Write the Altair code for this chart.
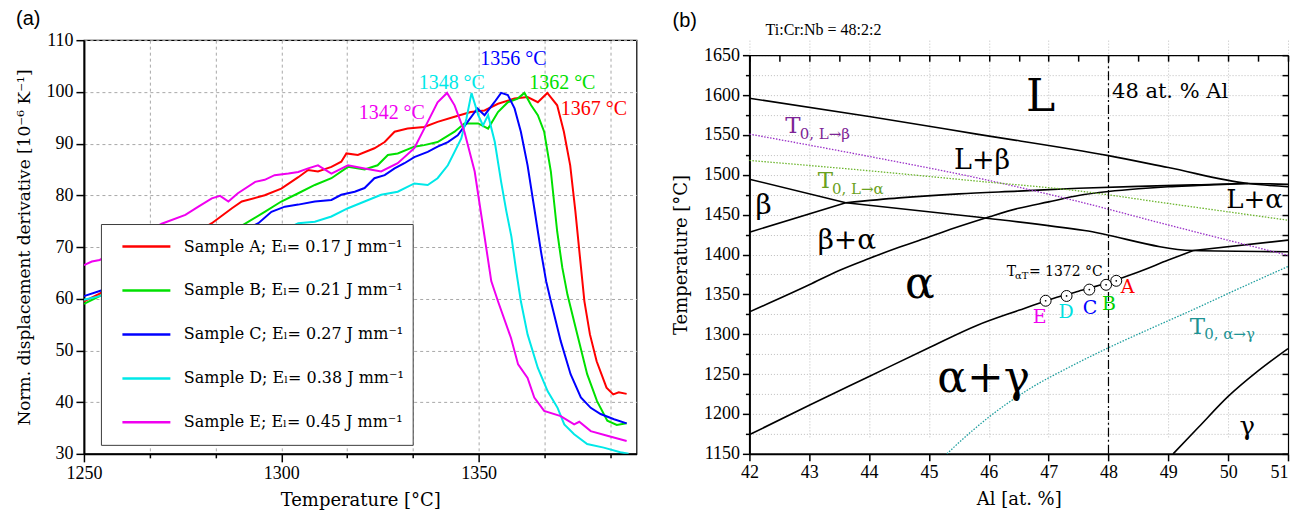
import altair as alt
import pandas as pd

# ---------------- panel (a): normalised displacement derivative ----------------
samples = [
    "Sample A; E\u2097= 0.17 J mm\u207b\u00b9",
    "Sample B; E\u2097= 0.21 J mm\u207b\u00b9",
    "Sample C; E\u2097= 0.27 J mm\u207b\u00b9",
    "Sample D; E\u2097= 0.38 J mm\u207b\u00b9",
    "Sample E; E\u2097= 0.45 J mm\u207b\u00b9",
]
sample_colors = ["#ff0000", "#00e000", "#0000ff", "#00e8e8", "#f000f0"]

temp_A = [1250, 1254, 1260, 1270, 1280, 1282.4, 1287.5, 1290, 1295.8, 1300, 1304.3, 1306.8, 1309.3,
          1312.7, 1315.2, 1316.5, 1319.4, 1323.6, 1326.2, 1328.7, 1332, 1336.2, 1339.6, 1343.9, 1348,
          1351.5, 1354.9, 1359.1, 1362.4, 1365, 1367.4, 1369.9, 1371.6, 1373.2, 1374.5, 1375.7, 1376.8,
          1378.2, 1379.9, 1382.4, 1384.1, 1385.5, 1387.5]
val_A = [59.5, 61, 64, 69, 73.5, 74.6, 77.5, 78.8, 80, 81.3, 83.5, 84.9, 84.6,
         85.5, 86.5, 88.1, 87.8, 89.1, 90.3, 92.3, 92.9, 93.2, 94.2, 95.2, 96.1,
         96.4, 97.7, 98.7, 99.0, 98.0, 99.8, 97.4, 92.3, 85.8, 77, 67.8, 59.5,
         53.1, 47.9, 42.8, 41.5, 41.9, 41.6]

temp_B = [1250, 1254, 1260, 1270, 1280, 1287.5, 1291.7, 1295.8, 1300, 1304.3, 1308.5, 1312.7, 1316.9,
          1321.1, 1324.4, 1327, 1329.5, 1333.7, 1336.2, 1339.6, 1343.9, 1346.4, 1349.9, 1352.4, 1354.9,
          1357.4, 1359.9, 1361.6, 1363.3, 1365, 1366.6, 1368.3, 1369.9, 1371.2, 1372.5, 1375, 1377.5,
          1380, 1382.6, 1385, 1387.5]
val_B = [59.0, 60.5, 63, 67, 70.5, 73.0, 74.9, 76.8, 78.8, 80.4, 82.0, 83.3, 85.5,
         85.0, 85.8, 87.8, 88.1, 89.4, 89.7, 90.3, 92.3, 93.9, 93.9, 92.9, 96.1,
         98.0, 98.7, 99.8, 97.4, 95.5, 92.3, 84.6, 73.0, 66, 60.8, 53.1, 45.4,
         40.2, 36.4, 35.6, 35.9]

temp_C = [1250, 1254, 1260, 1270, 1280, 1290, 1294.2, 1297.5, 1300.9, 1304.3, 1308.5, 1312.7, 1315.2,
          1318.6, 1321.1, 1323.6, 1326.2, 1328.7, 1331.2, 1333.7, 1337.1, 1339.6, 1342.2, 1344.7, 1347.2,
          1349.7, 1351.5, 1354, 1355.7, 1357.4, 1359.1, 1360.7, 1362.4, 1364.1, 1365.8, 1367.1, 1368.3,
          1370.8, 1373.3, 1375.9, 1378.4, 1380.9, 1384.3, 1387.5]
val_C = [60.5, 61.5, 63, 66, 69.5, 73, 74.6, 76.8, 77.8, 78.2, 78.8, 79.1, 80.1,
         80.7, 81.4, 83.3, 83.9, 85.2, 86.2, 87.4, 88.4, 89.4, 90.3, 91.6, 94.2,
         96.8, 95.5, 98.0, 99.8, 99.4, 96.8, 92.3, 85.8, 77.5, 69.1, 63.4, 59.5,
         51.8, 45.4, 40.9, 38.9, 37.7, 36.7, 35.9]

temp_D = [1250, 1254, 1260, 1270, 1280, 1290, 1300, 1304.3, 1308.5, 1312.7, 1316.9, 1321.1, 1325.3,
          1329.5, 1333.7, 1337.1, 1339.6, 1342.2, 1343.9, 1345.6, 1346.9, 1348.2, 1349.9, 1351.1,
          1352.4, 1354.1, 1355.7, 1357, 1358.3, 1359.5, 1360.7, 1362.4, 1365, 1367.5, 1370, 1371.7,
          1374.2, 1377.5, 1381.7, 1385.9, 1388]
val_D = [59.8, 60.5, 62, 64.5, 67, 70, 73, 74.6, 74.9, 75.9, 77.5, 78.8, 80.1,
         80.7, 82.3, 82.0, 83.3, 85.8, 88.4, 91.0, 94.8, 99.8, 95.5, 93.5,
         95.5, 90.3, 82.6, 77, 72, 65.5, 59.5, 53.1, 46.6, 42.1, 38.9, 35.7,
         33.8, 31.9, 31.2, 30.3, 30.0]

temp_E = [1250, 1252, 1254, 1260, 1265, 1269.7, 1275.7, 1279, 1282.4, 1284.5, 1286.6, 1289, 1293.4,
          1295.8, 1298.3, 1301.8, 1304.3, 1306.8, 1309.3, 1312.7, 1316.9, 1321.1, 1325.3, 1329.5,
          1333.7, 1337.1, 1339.6, 1342, 1343.9, 1346.4, 1349, 1351.5, 1353.2, 1354.9, 1358.2, 1360,
          1362.4, 1364.1, 1366.6, 1370.8, 1374.2, 1375.5, 1378.4, 1382.6, 1387.5]
val_E = [66.5, 67.2, 67.5, 70, 72.5, 74.5, 76.2, 77.8, 79.4, 79.9, 78.8, 80.4, 82.6,
         83, 83.9, 84.2, 84.5, 85.2, 85.8, 84.2, 85.8, 85.2, 84.6, 86.2,
         89.1, 94.2, 98.0, 99.8, 97.4, 92.3, 84.6, 72, 63.4, 59.5, 52.4, 47.3,
         44.7, 40.9, 38.3, 37.3, 35.7, 36.2, 34.4, 33.5, 32.5]

peak_text = ["1356 \u00b0C", "1348 \u00b0C", "1362 \u00b0C", "1342 \u00b0C", "1367 \u00b0C"]
peak_temp = [1358.8, 1343.2, 1371.2, 1328.0, 1379.2]
peak_val = [105.2, 100.6, 100.6, 94.8, 95.5]
peak_color = ["#0000ff", "#00e8e8", "#00e000", "#f000f0", "#ff0000"]

xa_ticks = [round(1250 + k * 25 / 6, 3) for k in range(34)]
ya_ticks = list(range(30, 111, 5))

# ---------------- panel (b): phase diagram ----------------
bound_names = ["liquidus", "beta_top", "beta_bottom", "lbeta_low", "ba_top", "a_ba", "a_transus",
               "la_low", "gamma"]
bound_x = [
    [42, 44, 45.8, 48, 49, 50.33, 51],
    [42, 43.61],
    [42, 43.61],
    [43.61, 44.5, 45.5, 46.5, 47.5, 48.5, 49.5, 50.33, 51],
    [43.61, 45.8, 47.6, 49.42, 51],
    [42, 43, 43.5, 44, 44.5, 45, 45.5, 46, 46.5, 47, 47.5, 48, 48.5, 49, 49.5, 50.33],
    [42, 43, 44, 45, 45.8, 46.5, 47, 47.5, 48, 48.5, 49, 49.42],
    [49.42, 51],
    [49.08, 49.5, 50, 50.5, 51],
]
bound_T = [
    [1596, 1573, 1551, 1524, 1509, 1489, 1485],
    [1494.5, 1465],
    [1428, 1465],
    [1465, 1471, 1476, 1479.5, 1483, 1485.5, 1487.5, 1489, 1488],
    [1465, 1447, 1430, 1405, 1403.5],
    [1328, 1362, 1380, 1395, 1409, 1422, 1435, 1447, 1458, 1466, 1474, 1479, 1482.5, 1485, 1486.5, 1489],
    [1174, 1211, 1247, 1283, 1311, 1330, 1343, 1354, 1365, 1378, 1393, 1405],
    [1405, 1418],
    [1150, 1183, 1222, 1254, 1282],
]

t0_names = ["T0 L-beta", "T0 L-alpha", "T0 alpha-gamma"]
t0_colors = ["#9a30c8", "#6cb52d", "#1e9e9e"]
t0_x = [
    [42, 44, 45.81, 47.47, 49, 51],
    [42, 44, 45.81, 47.47, 49, 51],
    [45.3, 45.47, 46, 46.69, 47.3, 47.97, 48.7, 49.36, 50.2, 51],
]
t0_T = [
    [1551, 1523, 1496, 1467, 1437, 1399],
    [1518, 1505, 1492, 1480, 1464, 1443],
    [1150, 1162, 1196, 1232, 1257, 1282, 1307, 1329, 1358, 1385],
]

al_line = [48]

sample_letters = ["E", "D", "C", "B", "A"]
sample_al = [46.95, 47.3, 47.68, 47.96, 48.13]
sample_T = [1342, 1348, 1356, 1362, 1367]
letter_x = [46.85, 47.29, 47.69, 48.01, 48.32]
letter_T = [1314, 1320, 1325, 1331, 1352]
letter_color = ["#f000f0", "#00e0e0", "#0000ff", "#00d000", "#ff0000"]

label_text = ["L", "48 at. % Al", "L+\u03b2", "L+\u03b1", "\u03b2", "\u03b2+\u03b1", "\u03b1", "\u03b1+\u03b3",
              "\u03b3", "T", "0, L\u2192\u03b2", "T", "0, L\u2192\u03b1", "T", "0, \u03b1\u2192\u03b3",
              "T", "\u03b1T", "= 1372 \u00b0C", "Ti:Cr:Nb = 48:2:2"]
label_x = [46.62, 48.06, 45.42, 49.97, 42.1, 43.14, 44.6, 45.14,
           50.19, 42.6, 42.84, 43.14, 43.38, 49.36, 49.6,
           46.3, 46.44, 46.67, 42.27]
label_T = [1580, 1596, 1507, 1458, 1451, 1407, 1345.5, 1228,
           1174, 1552.5, 1545, 1483.5, 1476, 1300, 1294,
           1373, 1369.5, 1373, 1675.5]
label_size = [44, 21, 27, 26, 28, 28, 44, 44,
              26, 23, 15, 23, 15, 23, 15,
              14, 10, 14, 16]
label_color = ["black", "black", "black", "black", "black", "black", "black", "black",
               "black", "#7d2596", "#7d2596", "#6aa121", "#6aa121", "#1e9393", "#1e9393",
               "black", "black", "black", "black"]
label_font = ["dv"] * 18 + ["lib"]

xb_ticks = [42 + 0.5 * k for k in range(19)]
yb_ticks = list(range(1150, 1651, 25))

SERIF = "Liberation Serif"
WIDE = "DejaVu Serif"

# ---------------- build panel (a) ----------------
rows = []
for name, ts, vs in zip(samples, [temp_A, temp_B, temp_C, temp_D, temp_E],
                        [val_A, val_B, val_C, val_D, val_E]):
    for t, v in zip(ts, vs):
        rows.append({"T": t, "v": v, "sample": name})
df_a = pd.DataFrame(rows)
df_peaks = pd.DataFrame({"T": peak_temp, "v": peak_val, "text": peak_text, "col": peak_color})

xa_scale = alt.Scale(domain=[1250, 1390], nice=False, zero=False)
ya_scale = alt.Scale(domain=[30, 110], nice=False, zero=False)

axis_kw = dict(labelOverlap=False, labelFlush=False, domainColor="black", domainWidth=2,
               tickColor="black", tickWidth=1.5, labelFont=SERIF, labelFontSize=18,
               labelColor="black", labelPadding=3, titleFont=WIDE, titleFontWeight="normal",
               titleColor="black")

curves = alt.Chart(df_a).mark_line(strokeWidth=2, clip=True).encode(
    x=alt.X("T:Q", scale=xa_scale, title="Temperature [\u00b0C]", axis=alt.Axis(
        values=xa_ticks, format="d",
        labelExpr="datum.value % 25 < 0.01 ? datum.label : ''",
        tickSize={"condition": {"test": "datum.value % 25 < 0.01", "value": 8}, "value": 4},
        grid=True, gridDash=[3, 3], gridColor="#a8a8a8", titleFontSize=18, titlePadding=9,
        **axis_kw)),
    y=alt.Y("v:Q", scale=ya_scale, title="Norm. displacement derivative [10\u207b\u2076 K\u207b\u00b9]",
            axis=alt.Axis(
                values=ya_ticks, format="d",
                labelExpr="datum.value % 10 == 0 ? datum.label : ''",
                tickSize={"condition": {"test": "datum.value % 10 == 0", "value": 8}, "value": 4},
                grid=True, gridDash=[3, 3], gridColor="#a8a8a8", titleFontSize=17, titlePadding=12,
                **axis_kw)),
    color=alt.Color("sample:N", scale=alt.Scale(domain=samples, range=sample_colors),
                    legend=alt.Legend(orient="none", legendX=17, legendY=184, title=None,
                                      fillColor="white", strokeColor="#3c3c3c", padding=8,
                                      symbolType="stroke", symbolSize=2304, symbolStrokeWidth=2.5,
                                      symbolOffset=12, labelFont=WIDE, labelFontSize=16,
                                      labelColor="black", labelLimit=400, labelOffset=12,
                                      rowPadding=15, clipHeight=29)),
)

peaks = alt.Chart(df_peaks).mark_text(font=SERIF, fontSize=20, align="center",
                                      baseline="alphabetic").encode(
    x=alt.X("T:Q", scale=xa_scale),
    y=alt.Y("v:Q", scale=ya_scale),
    text="text:N",
    color=alt.Color("col:N", scale=None),
)

panel_a = alt.layer(curves, peaks).resolve_scale(color="independent").properties(
    width=553, height=414,
    title=alt.Title("(a)", anchor="start", font="Liberation Sans", fontSize=20,
                    fontWeight="normal", color="black", offset=2),
)

# ---------------- build panel (b) ----------------
rows = []
for name, xs, ts in zip(bound_names, bound_x, bound_T):
    for x, t in zip(xs, ts):
        rows.append({"al": x, "T": t, "seg": name})
df_bounds = pd.DataFrame(rows)

rows = []
for name, xs, ts in zip(t0_names, t0_x, t0_T):
    for x, t in zip(xs, ts):
        rows.append({"al": x, "T": t, "name": name})
df_t0 = pd.DataFrame(rows)

df_samples = pd.DataFrame({"al": sample_al, "T": sample_T})
df_letters = pd.DataFrame({"al": letter_x, "T": letter_T, "text": sample_letters, "col": letter_color})
df_labels = pd.DataFrame({"al": label_x, "T": label_T, "text": label_text,
                          "size": label_size, "col": label_color, "font": label_font})
df_al = pd.DataFrame({"al": al_line})

# the phase diagram starts 15 px lower than panel (a)
xb_scale = alt.Scale(domain=[42, 51], nice=False, zero=False)
yb_scale = alt.Scale(domain=[1150, 1650], nice=False, zero=False, range=[414, 15])

grid_kw = dict(grid=True, gridDash=[1, 2], gridColor="#bdbdbd", titleFontSize=18, **axis_kw)
frame_kw = dict(labels=False, grid=False, title=None, domainColor="black", domainWidth=1.2,
                tickColor="black", tickWidth=1.5)

bounds = alt.Chart(df_bounds).mark_line(color="black", strokeWidth=1.6,
                                        interpolate="monotone").encode(
    x=alt.X("al:Q", scale=xb_scale, title="Al [at. %]", axis=alt.Axis(
        values=xb_ticks, format="d",
        labelExpr="datum.value % 1 == 0 ? datum.label : ''",
        labelAlign={"condition": {"test": "datum.value >= 51", "value": "right"}, "value": "center"},
        tickSize={"condition": {"test": "datum.value % 1 == 0", "value": 7}, "value": 4},
        titlePadding=9, **grid_kw)),
    y=alt.Y("T:Q", scale=yb_scale, title="Temperature [\u00b0C]", axis=alt.Axis(
        values=yb_ticks, format="d",
        labelExpr="datum.value % 50 == 0 ? datum.label : ''",
        tickSize={"condition": {"test": "datum.value % 50 == 0", "value": 7}, "value": 4},
        titlePadding=13, **grid_kw)),
    detail="seg:N",
)

# top / right frame lines
t0 = alt.Chart(df_t0).mark_line(strokeWidth=1.3, strokeDash=[1.5, 1.5],
                                interpolate="monotone").encode(
    x=alt.X("al:Q", scale=xb_scale, axis=alt.Axis(orient="top", offset=-15, domain=True,
                                                  ticks=False, **frame_kw)),
    y=alt.Y("T:Q", scale=yb_scale, axis=alt.Axis(orient="right", offset=0, domain=True,
                                                 ticks=False, **frame_kw)),
    color=alt.Color("name:N", scale=alt.Scale(domain=t0_names, range=t0_colors), legend=None),
)

vline = alt.Chart(df_al).mark_rule(color="black", strokeWidth=1.2, strokeDash=[9, 3, 2, 3]).encode(
    x=alt.X("al:Q", scale=xb_scale, axis=None),
    y=alt.Y(datum=1150, scale=yb_scale, axis=None),
    y2=alt.Y2(datum=1650),
)

# inward ticks on top / right
circles = alt.Chart(df_samples).mark_point(shape="circle", filled=True, fill="white", stroke="black",
                                            strokeWidth=1, size=120, opacity=1).encode(
    x=alt.X("al:Q", scale=xb_scale, axis=alt.Axis(
        orient="top", values=xb_ticks, domain=False, ticks=True, tickSize=6, offset=-21,
        **frame_kw)),
    y=alt.Y("T:Q", scale=yb_scale, axis=alt.Axis(
        orient="right", values=yb_ticks, domain=False, ticks=True, tickSize=6, offset=-6,
        **frame_kw)),
)

dots = alt.Chart(df_samples).mark_point(shape="circle", filled=True, color="black", size=3,
                                         opacity=1).encode(
    x=alt.X("al:Q", scale=xb_scale, axis=None),
    y=alt.Y("T:Q", scale=yb_scale, axis=None),
)

letters = alt.Chart(df_letters).mark_text(font=WIDE, fontSize=19, align="center",
                                          baseline="alphabetic").encode(
    x=alt.X("al:Q", scale=xb_scale, axis=None),
    y=alt.Y("T:Q", scale=yb_scale, axis=None),
    text="text:N",
    color=alt.Color("col:N", scale=None),
)


def label_layer(font_key, font_name):
    return alt.Chart(df_labels).transform_filter(
        alt.datum.font == font_key
    ).mark_text(font=font_name, align="left", baseline="alphabetic").encode(
        x=alt.X("al:Q", scale=xb_scale, axis=None),
        y=alt.Y("T:Q", scale=yb_scale, axis=None),
        text="text:N",
        size=alt.Size("size:Q", scale=None),
        color=alt.Color("col:N", scale=None),
    )


panel_b = alt.layer(bounds, t0, vline, circles, dots, letters,
                    label_layer("dv", WIDE), label_layer("lib", SERIF)).resolve_scale(
    color="independent"
).resolve_axis(x="independent", y="independent").properties(
    width=539, height=414, view=alt.ViewBackground(stroke="transparent"),
    title=alt.Title("(b)", anchor="start", font="Liberation Sans", fontSize=20,
                    fontWeight="normal", color="black", offset=-9),
)

chart = alt.hconcat(panel_a, panel_b, spacing=34).configure(font=SERIF).configure_view(
    stroke="black", strokeWidth=1.2
).properties(padding={"left": 7, "top": 0, "right": 0, "bottom": 0})

chart.save("out.html", embed_options={"renderer": "svg", "actions": False})
